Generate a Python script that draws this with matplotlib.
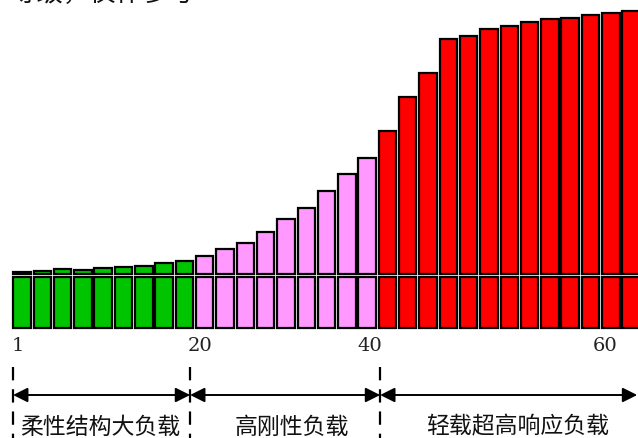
import matplotlib
matplotlib.use("Agg")
import matplotlib.pyplot as plt
import numpy as np

plt.rcParams['font.family'] = ['Noto Sans CJK SC', 'DejaVu Sans']

# Data: bar total heights (arbitrary units), split into a fixed lower block and upper block
green_totals = [55.7, 57.0, 58.7, 58.3, 59.7, 61.3, 62.0, 65.0, 67.0]
pink_totals = [72.3, 78.7, 85.3, 95.7, 109.3, 119.7, 136.7, 153.7, 170.3]
red_totals = [197.5, 231.3, 255.0, 289.0, 292.3, 299.0, 302.0, 305.7, 308.7, 310.0, 313.0, 315.3, 316.7]
lower_block = 51.5
gap = 2.7

group_colors = ['#00C400', '#FF99FF', '#FF0000']
tick_labels = ['1', '20', '40', '60']
tick_pos = [-0.2, 8.77, 17.14, 28.72]
boundaries = [-0.44, 8.28, 17.64]
region_labels = ['柔性结构大负载', '高刚性负载', '轻载超高响应负载']
region_label_x = [3.85, 13.3, 24.4]
header_text = '等级，仅作参考'

totals = green_totals + pink_totals + red_totals
colors = ([group_colors[0]] * len(green_totals) + [group_colors[1]] * len(pink_totals)
          + [group_colors[2]] * len(red_totals))
x = np.arange(len(totals))

fig = plt.figure(figsize=(6.38, 4.39), dpi=100)
ax = fig.add_axes([0, 0, 1, 1])
ax.set_xlim(-1.084, 30.34)
ax.set_ylim(-110, 329)
ax.axis('off')

w = 0.86
lw = 1.6
ax.bar(x, [lower_block] * len(x), width=w, color=colors, edgecolor='black', linewidth=lw)
upper = [t - lower_block - gap for t in totals]
ax.bar(x, upper, bottom=lower_block + gap, width=w, color=colors, edgecolor='black', linewidth=lw)

# tick labels
for p, lab in zip(tick_pos, tick_labels):
    ax.text(p, -17, lab, ha='center', va='center', fontsize=14,
            family=['DejaVu Serif'], color='#222222')

# dashed boundary lines
for b in boundaries:
    ax.plot([b, b], [-39, -112], color='black', lw=1.6, linestyle=(0, (6, 4)), clip_on=False)

# double arrows
arrow_ends = [(boundaries[0], boundaries[1]), (boundaries[1], boundaries[2]), (boundaries[2], 30.3)]
for a, b in arrow_ends:
    ax.annotate('', xy=(b, -67), xytext=(a, -67),
                arrowprops=dict(arrowstyle='<|-|>', color='black', lw=1.4,
                                mutation_scale=22, shrinkA=0, shrinkB=0))

for xc, lab in zip(region_label_x, region_labels):
    ax.text(xc, -98, lab, ha='center', va='center', fontsize=16.5, color='#111111')

ax.text(-0.6, 328, header_text, ha='left', va='baseline', fontsize=19, color='#111111')

fig.savefig('out.png', dpi=100)
